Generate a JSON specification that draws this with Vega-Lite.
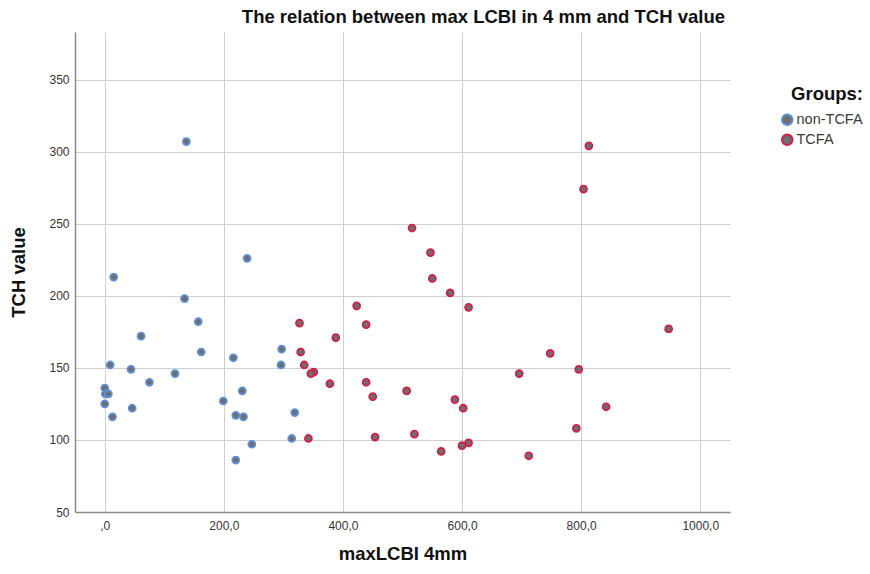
{
  "$schema": "https://vega.github.io/schema/vega-lite/v6.json",
  "autosize": "none",
  "width": 655,
  "height": 480,
  "padding": {"left": 75, "top": 32, "right": 140, "bottom": 62},
  "background": "white",
  "config": {
    "font": "Liberation Sans",
    "view": {"stroke": null},
    "axis": {"gridColor": "#cfcfcf", "gridWidth": 1, "domainColor": "#8a8a8a", "domainWidth": 1.5, "ticks": false, "labelColor": "#333333", "labelFontSize": 12, "titleFontSize": 18.5, "titleFontWeight": "bold", "titleColor": "#111111"}
  },
  "title": {"text": "The relation between max LCBI in 4 mm and TCH value", "anchor": "end", "frame": "group", "fontSize": 18.5, "fontWeight": "bold", "color": "#111111", "offset": 6, "dx": -5},
  "data": {"values": [
    {"lcbi": 137, "tch": 307, "group": "non-TCFA"},
    {"lcbi": 239, "tch": 226, "group": "non-TCFA"},
    {"lcbi": 15, "tch": 213, "group": "non-TCFA"},
    {"lcbi": 134, "tch": 198, "group": "non-TCFA"},
    {"lcbi": 157, "tch": 182, "group": "non-TCFA"},
    {"lcbi": 61, "tch": 172, "group": "non-TCFA"},
    {"lcbi": 162, "tch": 161, "group": "non-TCFA"},
    {"lcbi": 216, "tch": 157, "group": "non-TCFA"},
    {"lcbi": 297, "tch": 163, "group": "non-TCFA"},
    {"lcbi": 296, "tch": 152, "group": "non-TCFA"},
    {"lcbi": 9, "tch": 152, "group": "non-TCFA"},
    {"lcbi": 44, "tch": 149, "group": "non-TCFA"},
    {"lcbi": 75, "tch": 140, "group": "non-TCFA"},
    {"lcbi": 118, "tch": 146, "group": "non-TCFA"},
    {"lcbi": 0, "tch": 136, "group": "non-TCFA"},
    {"lcbi": 1, "tch": 132, "group": "non-TCFA"},
    {"lcbi": 6, "tch": 132, "group": "non-TCFA"},
    {"lcbi": 0, "tch": 125, "group": "non-TCFA"},
    {"lcbi": 46, "tch": 122, "group": "non-TCFA"},
    {"lcbi": 13, "tch": 116, "group": "non-TCFA"},
    {"lcbi": 231, "tch": 134, "group": "non-TCFA"},
    {"lcbi": 199, "tch": 127, "group": "non-TCFA"},
    {"lcbi": 220, "tch": 117, "group": "non-TCFA"},
    {"lcbi": 233, "tch": 116, "group": "non-TCFA"},
    {"lcbi": 247, "tch": 97, "group": "non-TCFA"},
    {"lcbi": 220, "tch": 86, "group": "non-TCFA"},
    {"lcbi": 314, "tch": 101, "group": "non-TCFA"},
    {"lcbi": 319, "tch": 119, "group": "non-TCFA"},
    {"lcbi": 516, "tch": 247, "group": "TCFA"},
    {"lcbi": 547, "tch": 230, "group": "TCFA"},
    {"lcbi": 550, "tch": 212, "group": "TCFA"},
    {"lcbi": 580, "tch": 202, "group": "TCFA"},
    {"lcbi": 611, "tch": 192, "group": "TCFA"},
    {"lcbi": 423, "tch": 193, "group": "TCFA"},
    {"lcbi": 327, "tch": 181, "group": "TCFA"},
    {"lcbi": 439, "tch": 180, "group": "TCFA"},
    {"lcbi": 388, "tch": 171, "group": "TCFA"},
    {"lcbi": 329, "tch": 161, "group": "TCFA"},
    {"lcbi": 335, "tch": 152, "group": "TCFA"},
    {"lcbi": 351, "tch": 147, "group": "TCFA"},
    {"lcbi": 346, "tch": 146, "group": "TCFA"},
    {"lcbi": 378, "tch": 139, "group": "TCFA"},
    {"lcbi": 439, "tch": 140, "group": "TCFA"},
    {"lcbi": 450, "tch": 130, "group": "TCFA"},
    {"lcbi": 507, "tch": 134, "group": "TCFA"},
    {"lcbi": 588, "tch": 128, "group": "TCFA"},
    {"lcbi": 602, "tch": 122, "group": "TCFA"},
    {"lcbi": 342, "tch": 101, "group": "TCFA"},
    {"lcbi": 454, "tch": 102, "group": "TCFA"},
    {"lcbi": 520, "tch": 104, "group": "TCFA"},
    {"lcbi": 565, "tch": 92, "group": "TCFA"},
    {"lcbi": 600, "tch": 96, "group": "TCFA"},
    {"lcbi": 611, "tch": 98, "group": "TCFA"},
    {"lcbi": 813, "tch": 304, "group": "TCFA"},
    {"lcbi": 804, "tch": 274, "group": "TCFA"},
    {"lcbi": 947, "tch": 177, "group": "TCFA"},
    {"lcbi": 748, "tch": 160, "group": "TCFA"},
    {"lcbi": 696, "tch": 146, "group": "TCFA"},
    {"lcbi": 796, "tch": 149, "group": "TCFA"},
    {"lcbi": 842, "tch": 123, "group": "TCFA"},
    {"lcbi": 792, "tch": 108, "group": "TCFA"},
    {"lcbi": 712, "tch": 89, "group": "TCFA"}
  ]},
  "mark": {"type": "point", "shape": "circle", "filled": false, "fill": "#6e6e6e", "fillOpacity": 1, "opacity": 1, "size": 48, "strokeWidth": 1.8},
  "encoding": {
    "x": {"field": "lcbi", "type": "quantitative", "title": "maxLCBI 4mm",
      "scale": {"domain": [-50, 1050], "nice": false, "zero": false},
      "axis": {"values": [0, 200, 400, 600, 800, 1000], "labelExpr": "datum.value == 0 ? ',0' : replace(format(datum.value, '.1f'), '.', ',')", "titlePadding": 13, "labelPadding": 8}},
    "y": {"field": "tch", "type": "quantitative", "title": "TCH value",
      "scale": {"domain": [50, 383], "nice": false, "zero": false},
      "axis": {"values": [50, 100, 150, 200, 250, 300, 350], "titlePadding": 20, "labelPadding": 6}},
    "stroke": {"field": "group", "type": "nominal",
      "scale": {"domain": ["non-TCFA", "TCFA"], "range": ["#5b8fd8", "#d21f48"]},
      "legend": {"title": "Groups:", "orient": "none", "legendX": 705, "legendY": 53, "titleFontSize": 18.5, "titleFontWeight": "bold", "titleColor": "#111111", "titlePadding": 9, "titleAnchor": "end", "labelFontSize": 14.5, "labelColor": "#3a3a3a", "symbolType": "circle", "symbolSize": 110, "symbolStrokeWidth": 2, "symbolFillColor": "#6e6e6e", "rowPadding": 1, "labelOffset": 2}}
  }
}
